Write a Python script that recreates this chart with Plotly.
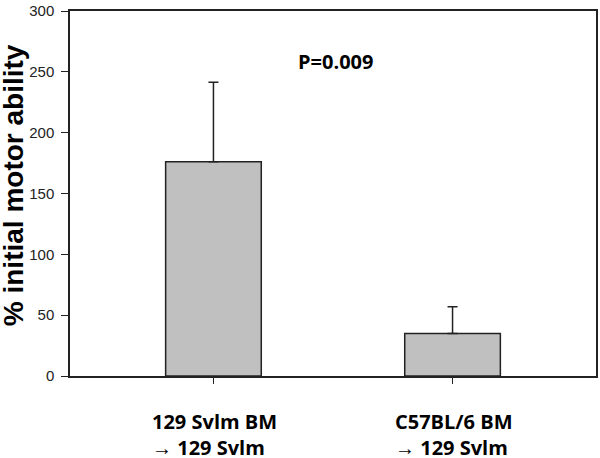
import plotly.graph_objects as go

categories = ["129 Svlm BM<br>→ 129 Svlm", "C57BL/6 BM<br>→ 129 Svlm"]
values = [176, 35]
errors = [65.5, 22]
y_ticks = [0, 50, 100, 150, 200, 250, 300]
p_text = "P=0.009"
y_title = "% initial motor ability"

x_pos = list(range(len(categories)))

fig = go.Figure()
fig.add_trace(go.Bar(
    x=x_pos, y=values, width=0.4,
    marker=dict(color="#c0c0c0", line=dict(color="#222222", width=1.5)),
    error_y=dict(type="data", array=errors, arrayminus=[0] * len(errors),
                 symmetric=False, color="#222222", thickness=1.5, width=5),
    showlegend=False,
))

for i, c in enumerate(categories):
    fig.add_annotation(x=x_pos[i], y=0, xref="x", yref="y", yshift=-30,
                       text="<b>" + c + "</b>", showarrow=False, align="left",
                       xanchor="center", yanchor="top", xshift=1,
                       font=dict(family="Open Sans", size=20, color="black"))

fig.add_annotation(x=0.51, y=258.6, xref="x", yref="y", text="<b>" + p_text + "</b>",
                   showarrow=False, font=dict(family="Open Sans", size=20, color="black"))

fig.add_annotation(x=(14 - 70) / 528, y=157, xref="paper", yref="y",
                   text="<b>" + y_title + "</b>",
                   showarrow=False, textangle=-90, xanchor="center", yanchor="middle",
                   font=dict(family="Liberation Sans", size=28, color="black"))

fig.update_layout(
    width=600, height=458,
    margin=dict(l=70, r=2, t=6, b=82),
    plot_bgcolor="white", paper_bgcolor="white",
    xaxis=dict(range=[-0.6, 1.6], tickvals=x_pos, ticktext=["", ""],
               showline=True, linecolor="#222222", linewidth=1.5, mirror=True,
               ticks="outside", ticklen=6, tickcolor="#222222", showgrid=False,
               zeroline=False),
    yaxis=dict(range=[0, 300], tickvals=y_ticks,
               showline=True, linecolor="#222222", linewidth=1.5, mirror=True,
               ticks="outside", ticklen=7, tickcolor="#222222", showgrid=False,
               zeroline=False, ticklabelstandoff=4, ticklabeloverflow="allow",
               tickfont=dict(family="Liberation Sans", size=15, color="#222222")),
)

fig.write_html("out.html", config={"displayModeBar": False},
               post_script="document.body.style.margin='0';")
